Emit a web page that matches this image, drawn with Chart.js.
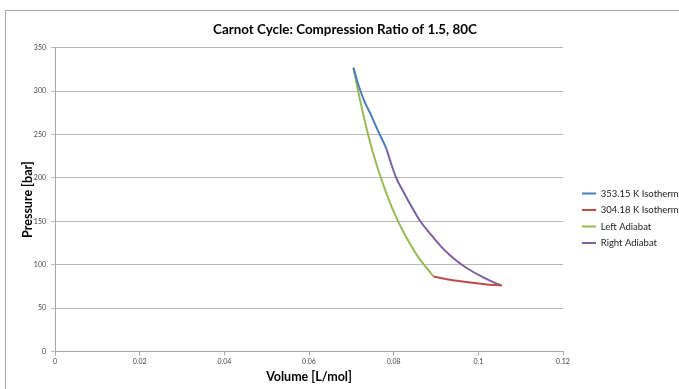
<!DOCTYPE html>
<html><head><meta charset="utf-8">
<script src="https://cdn.jsdelivr.net/npm/chart.js@4.4.1/dist/chart.umd.min.js"></script>
<style>
html,body{margin:0;padding:0;background:#fff;overflow:hidden;width:679px;height:389px;}
#frame{position:absolute;left:5px;top:10px;width:720px;height:420px;border:1px solid #a6a6a6;box-sizing:border-box;}
#c{position:absolute;left:0;top:0;}
</style></head><body>
<div id="frame"></div>
<canvas id="c" width="690" height="389" style="width:690px;height:389px"></canvas>
<script>
// ---- data ----
const chartTitle = 'Carnot Cycle: Compression Ratio of 1.5, 80C';
const xTitle = 'Volume [L/mol]';
const yTitle = 'Pressure [bar]';
const seriesNames = ['353.15 K Isotherm', '304.18 K Isotherm', 'Left Adiabat', 'Right Adiabat'];
const seriesColors = ['#4a7ebb', '#be4b48', '#98b954', '#7d60a0'];

const hotIsoV = [0.0705, 0.0713, 0.0721, 0.0732, 0.0744, 0.0755, 0.0765, 0.0775, 0.0784];
const hotIsoP = [327, 313, 301, 287, 275, 263, 252, 242, 232];

const coldIsoV = [0.0894, 0.0930, 0.0976, 0.1015, 0.1055];
const coldIsoP = [86.5, 83, 79.7, 77.5, 76];

const leftAdV = [0.0705, 0.0720, 0.0735, 0.0750, 0.0765, 0.0780, 0.0795, 0.0810, 0.0825, 0.0840, 0.0855, 0.0870, 0.0885, 0.0894];
const leftAdP = [327, 291, 259, 231, 207, 186, 167, 150.5, 136, 123, 111, 101, 92, 86.5];

const rightAdV = [0.0784, 0.0795, 0.0806, 0.0822, 0.0842, 0.0863, 0.0885, 0.0910, 0.0935, 0.0961, 0.0990, 0.1012, 0.1035, 0.1055];
const rightAdP = [232, 215, 200, 185, 167, 150, 136.5, 122, 110, 100, 91, 85.5, 80, 76];

const xTicks = [0, 0.02, 0.04, 0.06, 0.08, 0.1, 0.12];
const yTicks = [0, 50, 100, 150, 200, 250, 300, 350];

// ---- layout constants ----
const FONT = 'Lato, "Open Sans", sans-serif';
const PLOT_LEFT = 55, PLOT_RIGHT = 563, PLOT_BOTTOM = 351.5, CANVAS_W = 690, CANVAS_H = 389;
const LEGEND_BOX_X = 582, LEGEND_FIRST_Y = 193.5, LEGEND_PAD = 7, LEGEND_FONT = 9.5;

const pts = (V, P) => V.map((v, i) => ({x: v, y: P[i]}));
const allSeries = [[hotIsoV, hotIsoP], [coldIsoV, coldIsoP], [leftAdV, leftAdP], [rightAdV, rightAdP]];

const datasets = allSeries.map((s, i) => ({
  label: seriesNames[i],
  data: pts(s[0], s[1]),
  borderColor: seriesColors[i],
  backgroundColor: seriesColors[i],
  borderWidth: 2,
  pointRadius: 0,
  pointHoverRadius: 0,
  showLine: true,
  cubicInterpolationMode: 'monotone',
  fill: false
}));

const legendPlace = {
  id: 'legendPlace',
  beforeLayout(chart) {
    const lg = chart.legend;
    if (lg && !lg._fixedFit) {
      const fit0 = lg.fit.bind(lg);
      lg.fit = function () { fit0(); this.width = CANVAS_W - PLOT_RIGHT; };
      lg._fixedFit = true;
    }
  },
  afterLayout(chart) {
    const lg = chart.legend;
    if (!lg) return;
    const w = lg.width, h = lg.height;
    lg.left = LEGEND_BOX_X - LEGEND_PAD;
    lg.right = lg.left + w;
    lg.top = LEGEND_FIRST_Y - LEGEND_FONT / 2 - LEGEND_PAD;
    lg.bottom = lg.top + h;
  }
};

new Chart(document.getElementById('c'), {
  type: 'scatter',
  data: {datasets},
  plugins: [legendPlace],
  options: {
    responsive: false,
    animation: false,
    devicePixelRatio: 1,
    layout: {padding: {left: 0, right: 0, top: 0, bottom: 0}},
    plugins: {
      title: {
        display: true,
        text: chartTitle,
        color: '#000',
        font: {family: FONT, size: 13.4, weight: 'bold'},
        padding: {top: 21.3, bottom: 10.3}
      },
      legend: {
        display: true,
        position: 'right',
        align: 'start',
        labels: {
          boxWidth: 14,
          boxHeight: 2,
          padding: LEGEND_PAD,
          color: '#222',
          font: {family: FONT, size: LEGEND_FONT},
          generateLabels(chart) {
            const items = Chart.defaults.plugins.legend.labels.generateLabels(chart);
            items.forEach(it => { it.fillStyle = it.strokeStyle; it.lineWidth = 0; });
            return items;
          }
        }
      },
      tooltip: {enabled: false}
    },
    scales: {
      x: {
        type: 'linear',
        min: xTicks[0],
        max: xTicks[xTicks.length - 1],
        afterBuildTicks: s => { s.ticks = xTicks.map(v => ({value: v})); },
        afterFit: s => { s.height = CANVAS_H - PLOT_BOTTOM; },
        ticks: {
          autoSkip: false, maxRotation: 0, padding: 2, color: '#444',
          font: {family: FONT, size: 7},
          callback: v => String(+Number(v).toFixed(2))
        },
        grid: {drawOnChartArea: false, drawTicks: true, tickLength: 4, color: '#a6a6a6'},
        border: {color: '#a6a6a6'},
        title: {display: true, text: xTitle, color: '#000', font: {family: FONT, size: 12.5, weight: 'bold'}, padding: {top: 0, bottom: 4.5}}
      },
      y: {
        type: 'linear',
        min: yTicks[0],
        max: yTicks[yTicks.length - 1],
        afterBuildTicks: s => { s.ticks = yTicks.map(v => ({value: v})); },
        afterFit: s => { s.width = PLOT_LEFT; },
        ticks: {autoSkip: false, padding: 5, color: '#444', font: {family: FONT, size: 7}},
        grid: {drawOnChartArea: true, drawTicks: true, tickLength: 4, color: '#b8b8b8'},
        border: {color: '#a6a6a6'},
        title: {display: true, text: yTitle, color: '#000', font: {family: FONT, size: 12.5, weight: 'bold'}, padding: {top: 20.5, bottom: 0}}
      }
    }
  }
});
</script>
</body></html>
